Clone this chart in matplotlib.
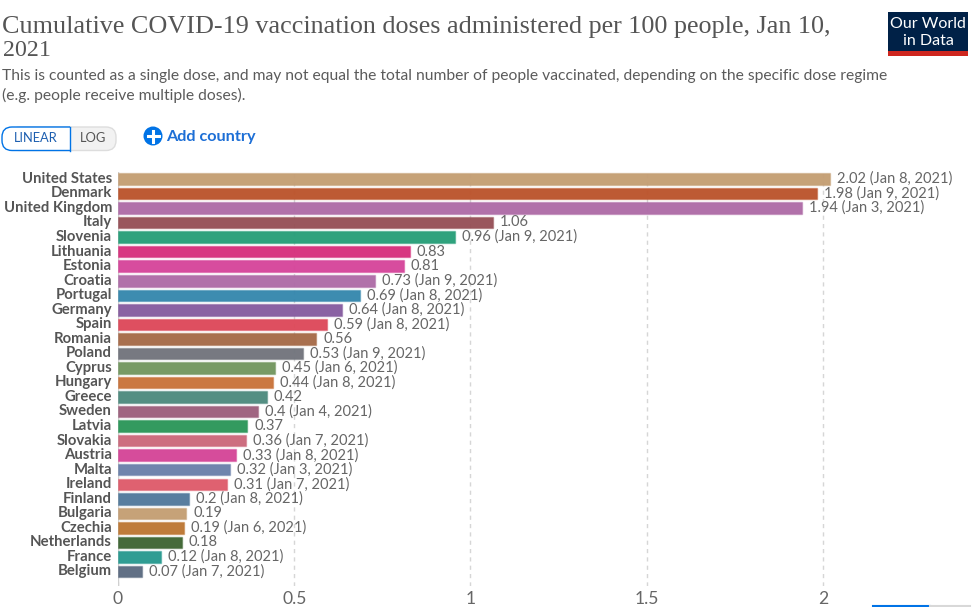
import matplotlib
matplotlib.use('Agg')
import matplotlib.pyplot as plt
from matplotlib.colors import to_rgba
from matplotlib.patches import FancyBboxPatch, Rectangle, Circle

countries = ['United States', 'Denmark', 'United Kingdom', 'Italy', 'Slovenia', 'Lithuania', 'Estonia',
             'Croatia', 'Portugal', 'Germany', 'Spain', 'Romania', 'Poland', 'Cyprus', 'Hungary', 'Greece',
             'Sweden', 'Latvia', 'Slovakia', 'Austria', 'Malta', 'Ireland', 'Finland', 'Bulgaria', 'Czechia',
             'Netherlands', 'France', 'Belgium']
# bar lengths, the printed labels are rounded
values = [2.019, 1.983, 1.94, 1.063, 0.957, 0.828, 0.81, 0.73, 0.687, 0.636, 0.594, 0.562, 0.525, 0.446, 0.44,
          0.422, 0.397, 0.367, 0.362, 0.334, 0.317, 0.31, 0.201, 0.193, 0.186, 0.181, 0.122, 0.069]
value_labels = ['2.02', '1.98', '1.94', '1.06', '0.96', '0.83', '0.81', '0.73', '0.69', '0.64', '0.59', '0.56',
                '0.53', '0.45', '0.44', '0.42', '0.4', '0.37', '0.36', '0.33', '0.32', '0.31', '0.2', '0.19',
                '0.19', '0.18', '0.12', '0.07']
dates = ['Jan 8, 2021', 'Jan 9, 2021', 'Jan 3, 2021', '', 'Jan 9, 2021', '', '', 'Jan 9, 2021', 'Jan 8, 2021',
         'Jan 8, 2021', 'Jan 8, 2021', '', 'Jan 9, 2021', 'Jan 6, 2021', 'Jan 8, 2021', '', 'Jan 4, 2021', '',
         'Jan 7, 2021', 'Jan 8, 2021', 'Jan 3, 2021', 'Jan 7, 2021', 'Jan 8, 2021', '', 'Jan 6, 2021', '',
         'Jan 8, 2021', 'Jan 7, 2021']
colors = ['#c49e73', '#bb532b', '#ae6ba7', '#964f56', '#269e78', '#d72f7c', '#d6449a', '#ae6ba7', '#3587ad',
          '#855b9f', '#dd4859', '#a66a48', '#71747c', '#72965f', '#c97239', '#4d8a7e', '#9c5f7c', '#2a9658',
          '#cb687b', '#d54497', '#6a80aa', '#de5a6a', '#52799b', '#c49e73', '#bd7733', '#3d6532', '#26998f',
          '#5a6a80']
x_ticks = [0, 0.5, 1, 1.5, 2]

W, H = 973, 607
plt.rcParams['font.family'] = ['Lato', 'DejaVu Sans']

fig = plt.figure(figsize=(W / 100, H / 100), dpi=100)

# chart area, pixel box from the reference
left, right, top, bottom = 118, 960, 172, 586
ax = fig.add_axes([left / W, 1 - bottom / H, (right - left) / W, (bottom - top) / H])
px_per_unit = 352.5
ax.set_xlim(0, (right - left) / px_per_unit)
ax.set_ylim(27 + (bottom - 571.5) / 14.54, -(179 - top) / 14.54)

ax.barh(range(len(values)), values, height=0.79, color=[to_rgba(c, 0.96) for c in colors],
        edgecolor=[to_rgba(c, 0.45) for c in colors], linewidth=1, zorder=2)
for i, v in enumerate(values):
    label = f'{value_labels[i]} ({dates[i]})' if dates[i] else value_labels[i]
    ax.text(v + 7 / px_per_unit, i - 0.01, label, va='center', ha='left', fontsize=10.55, color='#666666', zorder=3)
    ax.text(-6 / px_per_unit, i - 0.01, countries[i], va='center', ha='right', fontsize=10.7, color='#555555',
            fontweight='bold', zorder=3)

ax.set_yticks([])
ax.set_xticks(x_ticks)
ax.set_xticklabels([f'{t:g}' for t in x_ticks], fontsize=12.6, color='#666666')
ax.tick_params(axis='x', length=0, pad=3.5)
ax.grid(axis='x', color='#d6d6d6', linestyle=(0, (3, 3)), linewidth=1, zorder=1)
ax.set_axisbelow(True)
for s in ax.spines.values():
    s.set_visible(False)
ax.plot([0, 0], [0, 1], transform=ax.get_xaxis_transform(), color='#d0d0d0', linewidth=1, zorder=1)

# header and controls in pixel coordinates
ui = fig.add_axes([0, 0, 1, 1], zorder=5)
ui.set_xlim(0, W)
ui.set_ylim(H, 0)
ui.axis('off')

ui.text(2, 27, 'Cumulative COVID-19 vaccination doses administered per 100 people, Jan 10,',
        fontsize=18.8, family='Liberation Serif', color='#555555', va='center')
ui.text(3, 51, '2021', fontsize=17.2, family='Liberation Serif', color='#555555', va='center')
ui.text(2, 76, 'This is counted as a single dose, and may not equal the total number of people vaccinated, '
               'depending on the specific dose regime', fontsize=11.28, color='#5b5b5b', va='center')
ui.text(2, 95, '(e.g. people receive multiple doses).', fontsize=11.28, color='#5b5b5b', va='center')

# logo
ui.add_patch(Rectangle((888, 12), 80, 44, facecolor='#002147', edgecolor='none'))
ui.add_patch(Rectangle((888, 51), 80, 5, facecolor='#ce261e', edgecolor='none'))
ui.text(928, 24, 'Our World', color='white', fontsize=11.5, ha='center', va='center')
ui.text(928, 41, 'in Data', color='white', fontsize=11.5, ha='center', va='center')

# linear / log toggle
ui.add_patch(FancyBboxPatch((10, 127), 106, 23.5, boxstyle='round,pad=0,rounding_size=10', facecolor='#f2f2f2',
                            edgecolor='#dddddd', linewidth=1))
linear_box = FancyBboxPatch((2, 127), 85, 23.5, boxstyle='round,pad=0,rounding_size=10', facecolor='white',
                            edgecolor='#0073e6', linewidth=1)
ui.add_patch(linear_box)
linear_box.set_clip_path(Rectangle((0, 120), 69.5, 40, transform=ui.transData))
ui.plot([69.5, 69.5], [127, 150.5], color='#0073e6', linewidth=1)
ui.text(36, 138, 'LINEAR', fontsize=9.3, color='#1d5fb0', ha='center', va='center')
ui.text(93, 138, 'LOG', fontsize=9.3, color='#555555', ha='center', va='center')

# add country
ui.add_patch(Circle((153, 136), 9.5, facecolor='#0073e6', edgecolor='none'))
ui.plot([147.5, 158.5], [136, 136], color='white', linewidth=2.2)
ui.plot([153, 153], [130.5, 141.5], color='white', linewidth=2.2)
ui.text(166.5, 137, 'Add country', fontsize=11.7, fontweight='bold', color='#1d6fd6', va='center')

# scrollbar remnant at the bottom edge
ui.plot([873, 930], [606, 606], color='#0073e6', linewidth=1.5)
ui.plot([930, 970], [606, 606], color='#d8d8d8', linewidth=1.5)

fig.savefig('out.png', dpi=100)
